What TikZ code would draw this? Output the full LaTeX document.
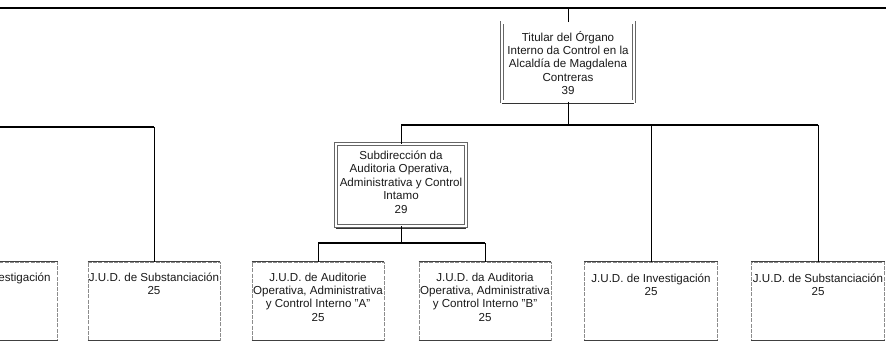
\documentclass[tikz,border=0pt]{standalone}
\usepackage{fontspec}
\setmainfont{Liberation Sans}
\usetikzlibrary{calc}
\tikzset{
  conn/.style={draw=black, line width=1.2pt},
  vconn/.style={draw=black, line width=0.9pt},
  dbox/.style={draw=black!60, line width=0.5pt, double, double distance=2.6pt, minimum width=#1, inner sep=0pt},
  sbox/.style={draw=black!45, line width=0.6pt, dash pattern=on 4pt off 1.2pt, minimum width=#1, minimum height=78pt, inner sep=0pt},
  txt/.style={align=center, inner sep=0pt, font=\fontsize{11.6}{13.4}\selectfont, text=black!90},
  edge/.style={draw=black!75, line width=0.9pt}
}
\begin{document}
\begin{tikzpicture}[x=1pt, y=-1pt]
\useasboundingbox (0,0) rectangle (886,342);
\clip (0,0) rectangle (886,342);
% top line
\coordinate (tl) at (0,8);
\coordinate (tr) at (886,8);
% level 2 lines
\coordinate (h2L) at (401,125);
\coordinate (h2R) at (818,125);
\coordinate (lL) at (0,127);
\coordinate (h3) at (0,243);
% boxes
\node[dbox=132pt, minimum height=79pt] (top) at (568,62) {};
\node[txt] (toptxt) at (568,63) {Titular del Órgano\\Interno da Control en la\\Alcaldía de Magdalena\\Contreras\\39};
\node[dbox=130pt, minimum height=82pt] (sub) at (401,185) {};
\node[txt] (subtxt) at (401,182) {Subdirección da\\Auditoria Operativa,\\Administrativa y Control\\Intamo\\29};
% bottom boxes
\node[sbox=133pt] (invL) at (-9,301) {};
\node[txt] (invLtxt) at (-9,284) {J.U.D. de Investigación\\25};
\node[sbox=132pt] (subL) at (154,301) {};
\node[txt] (subLtxt) at (154,284) {J.U.D. de Substanciación\\25};
\node[sbox=132pt] (audA) at (318,301) {};
\node[txt] (audAtxt) at (318,297) {J.U.D. de Auditorie\\Operativa, Administrativa\\y Control Interno "A"\\25};
\node[sbox=132pt] (audB) at (485,301) {};
\node[txt] (audBtxt) at (485,297) {J.U.D. da Auditoria\\Operativa, Administrativa\\y Control Interno "B"\\25};
\node[sbox=133pt] (inv) at (651,301) {};
\node[txt] (invtxt) at (651,285) {J.U.D. de Investigación\\25};
\node[sbox=133pt] (subR) at (818,301) {};
\node[txt] (subRtxt) at (818,285) {J.U.D. de Substanciación\\25};
% solid top / bottom edges of bottom boxes
\foreach \n in {invL,subL,audA,audB,inv,subR}{
  \draw[edge] (\n.north west) -- (\n.north east);
  \draw[edge] (\n.south west) -- (\n.south east);
}
\draw[draw=black!80, line width=1.2pt] ([yshift=-2pt]top.south west) -- ([yshift=-2pt]top.south east);
\draw[draw=black!80, line width=1.2pt] ([yshift=-2pt]sub.south west) -- ([yshift=-2pt]sub.south east);
% connectors
\draw[conn] (tl) -- (tr);
\draw[vconn] (top.north) -- (top.north |- tl);
\draw[vconn] (top.south) -- (top.south |- h2L);
\draw[conn] (h2L) -- (h2R);
\draw[vconn] (h2L) -- (sub.north);
\draw[vconn] (inv.north |- h2L) -- (inv.north);
\draw[vconn] (h2R) -- (subR.north);
\draw[conn] (lL) -- (subL.north |- lL);
\draw[vconn] (subL.north |- lL) -- (subL.north);
\draw[vconn] (sub.south) -- (sub.south |- h3);
\draw[conn] (audA.north |- h3) -- (audB.north |- h3);
\draw[vconn] (audA.north |- h3) -- (audA.north);
\draw[vconn] (audB.north |- h3) -- (audB.north);
\end{tikzpicture}
\end{document}
